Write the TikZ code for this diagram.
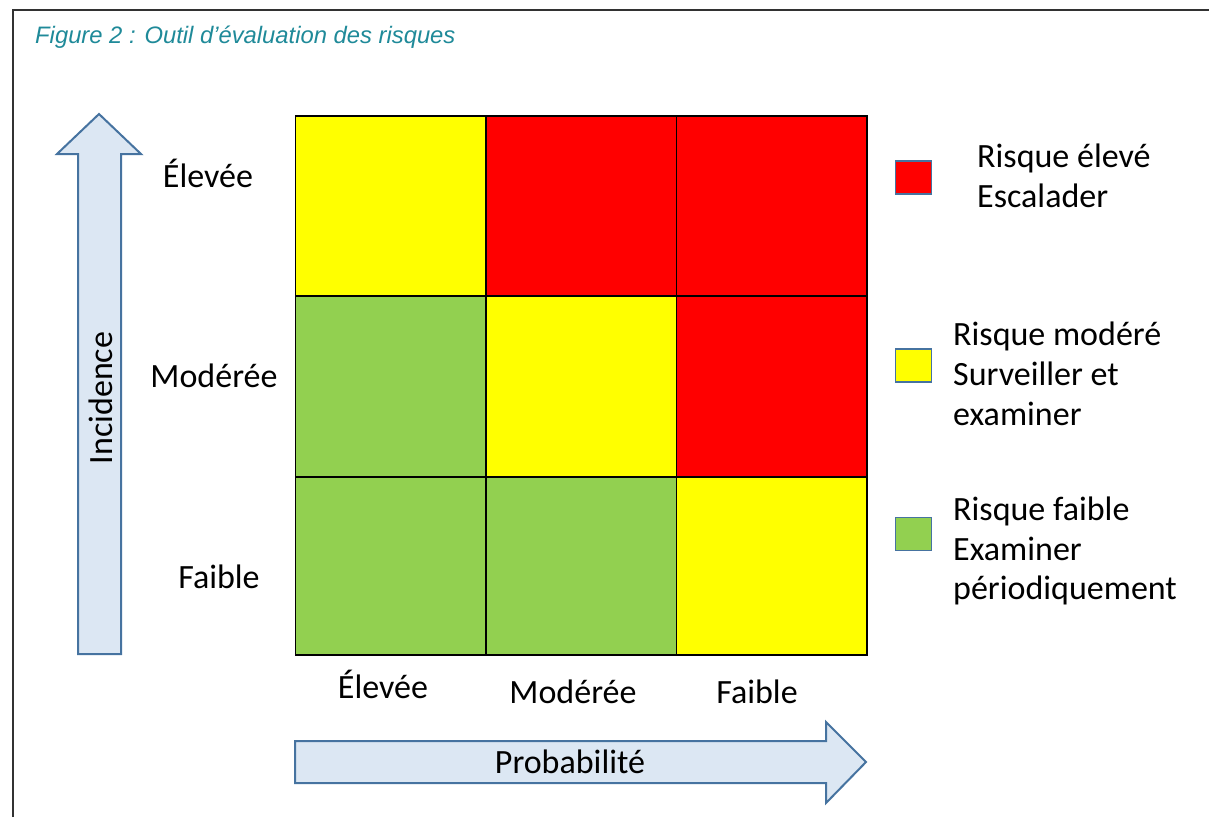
\documentclass[tikz,border=0pt]{standalone}
\usepackage{fontspec}
\setmainfont{Carlito}
\newfontfamily\titlefont{Liberation Sans}
\begin{document}
\begin{tikzpicture}[x=1pt,y=-1pt,
  cell/.style={draw=black,line width=1.5pt,minimum width=190.5pt,minimum height=180pt,inner sep=0pt,anchor=north west},
  lbl/.style={inner sep=0pt,anchor=base,font=\fontsize{34}{40}\selectfont},
  leg/.style={inner sep=0pt,anchor=base west,font=\fontsize{34}{40}\selectfont},
  legsq/.style={draw=arrowline,line width=1.5pt,minimum width=36pt,minimum height=33pt,inner sep=0pt},
  bigarrow/.style={draw=arrowline,fill=arrowfill,line width=2pt,line join=miter}]
\definecolor{titlecol}{RGB}{31,138,153}
\definecolor{arrowfill}{RGB}{220,231,243}
\definecolor{arrowline}{RGB}{70,115,160}
\definecolor{cyel}{RGB}{255,255,0}
\definecolor{cred}{RGB}{255,0,0}
\definecolor{cgreen}{RGB}{146,208,80}
\definecolor{framecol}{RGB}{50,50,50}
\useasboundingbox (0,0) rectangle (1209,817);
\fill[white] (0,0) rectangle (1209,817);
% frame
\draw[framecol,line width=1.8pt] (13,817) -- (13,10) -- (1209,10);
% title
\node[inner sep=0pt,anchor=base west,text=titlecol,font=\titlefont\itshape\fontsize{23.8}{28}\selectfont] (title) at (35,43) {Figure 2 : Outil d’évaluation des risques};
% grid cells
\node[cell,fill=cyel]   (c11) at (294.5,115) {};
\node[cell,fill=cred]   (c12) at (485,115) {};
\node[cell,fill=cred]   (c13) at (675.5,115) {};
\node[cell,fill=cgreen,minimum height=181pt] (c21) at (294.5,295) {};
\node[cell,fill=cyel,minimum height=181pt]   (c22) at (485,295) {};
\node[cell,fill=cred,minimum height=181pt]   (c23) at (675.5,295) {};
\node[cell,fill=cgreen,minimum height=178pt] (c31) at (294.5,476) {};
\node[cell,fill=cgreen,minimum height=178pt] (c32) at (485,476) {};
\node[cell,fill=cyel,minimum height=178pt]   (c33) at (675.5,476) {};
% up arrow (Incidence)
\draw[bigarrow] (78,654) -- (121,654) -- (121,154) -- (141,154) -- (99,114) -- (57,154) -- (78,154) -- cycle;
\node[lbl,rotate=90] (incid) at (112,398) {Incidence};
% right arrow (Probabilite)
\draw[bigarrow] (295,741) -- (826,741) -- (826,722) -- (866,762) -- (826,803) -- (826,783) -- (295,783) -- cycle;
\node[lbl] (prob) at (570,773) {Probabilité};
% row labels
\node[lbl] (r1) at (208,187) {Élevée};
\node[lbl] (r2) at (214,387) {Modérée};
\node[lbl] (r3) at (219,588) {Faible};
% column labels
\node[lbl] (k1) at (383,698) {Élevée};
\node[lbl] (k2) at (573,703) {Modérée};
\node[lbl] (k3) at (757,703) {Faible};
% legend
\node[legsq,fill=cred]   (s1) at (913.5,177.5) {};
\node[legsq,fill=cyel]   (s2) at (913.5,365.5) {};
\node[legsq,fill=cgreen] (s3) at (913.5,534) {};
\node[leg] (l1a) at (977,167) {Risque élevé};
\node[leg] (l1b) at (977,207) {Escalader};
\node[leg] (l2a) at (953,345) {Risque modéré};
\node[leg] (l2b) at (953,385) {Surveiller et};
\node[leg] (l2c) at (953,425) {examiner};
\node[leg] (l3a) at (953,520) {Risque faible};
\node[leg] (l3b) at (953,560) {Examiner};
\node[leg] (l3c) at (953,599) {périodiquement};
\end{tikzpicture}
\end{document}
